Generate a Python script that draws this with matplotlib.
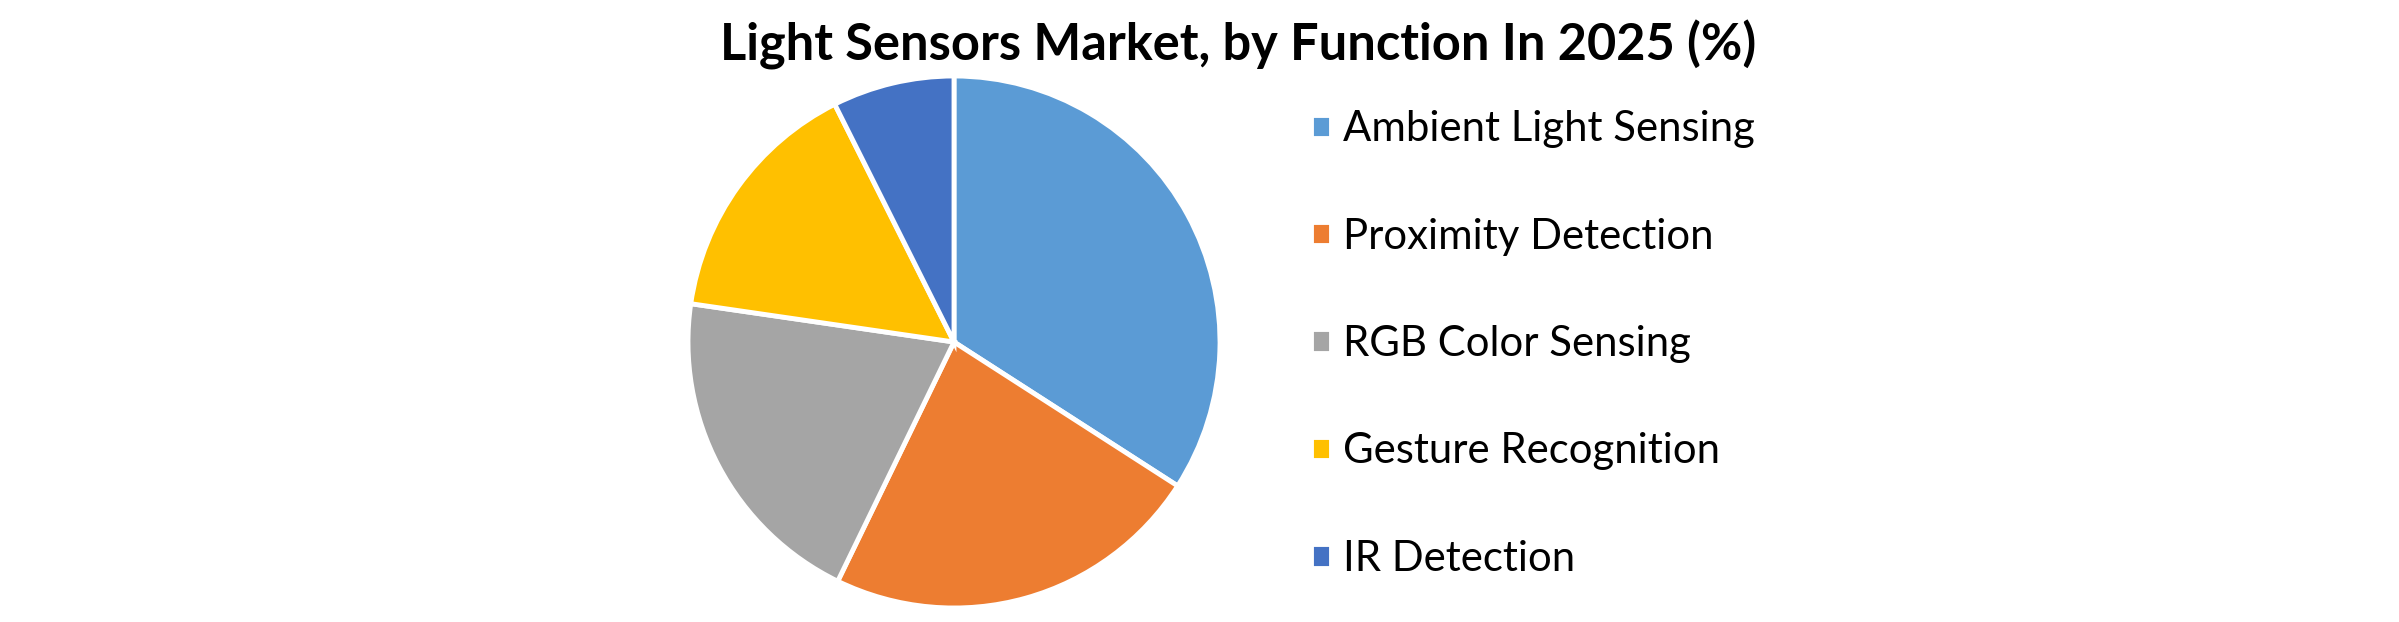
import matplotlib

matplotlib.use("Agg", force=True)
import matplotlib.pyplot as plt

categories = [
    "Ambient Light Sensing",
    "Proximity Detection",
    "RGB Color Sensing",
    "Gesture Recognition",
    "IR Detection",
]
shares = [34.1, 23.1, 20.1, 15.3, 7.4]
colors = ["#5B9BD5", "#ED7D31", "#A5A5A5", "#FFC000", "#4472C4"]
title = "Light Sensors Market, by Function In 2025 (%)"

W, H, DPI = 2399, 622, 100
plt.rcParams["font.family"] = ["Lato", "DejaVu Sans"]

fig = plt.figure(figsize=(W / DPI, H / DPI), dpi=DPI)
fig.patch.set_facecolor("white")

# pie: centre (954, 342) px from top-left, radius 266 px
cx, cy, r = 954, 342, 266
ax = fig.add_axes([(cx - r) / W, (H - cy - r) / H, 2 * r / W, 2 * r / H])
wedges, _ = ax.pie(
    shares,
    colors=colors,
    startangle=90,
    counterclock=False,
    radius=1.0,
    wedgeprops={"edgecolor": "white", "linewidth": 3.5},
)
ax.set_xlim(-1, 1)
ax.set_ylim(-1, 1)
ax.set_aspect("equal")
ax.axis("off")

# title, fitted to the reference width
t = fig.text(1238 / W, 1 - 60 / H, title, ha="center", va="baseline",
             fontsize=34, fontweight="bold", color="black")
fig.canvas.draw()
bb = t.get_window_extent()
t.set_fontsize(34 * 1036 / bb.width)

fs = 30.2
fs_px = fs * DPI / 72
leg = fig.legend(
    wedges,
    categories,
    loc="center left",
    bbox_to_anchor=(1311 / W, 1 - 344 / H),
    frameon=False,
    fontsize=fs,
    borderpad=0,
    borderaxespad=0,
    handlelength=20 / fs_px,
    handleheight=20 / fs_px,
    handletextpad=12 / fs_px,
    labelspacing=1.655,
)

fig.savefig("out.png", dpi=DPI, facecolor="white")
